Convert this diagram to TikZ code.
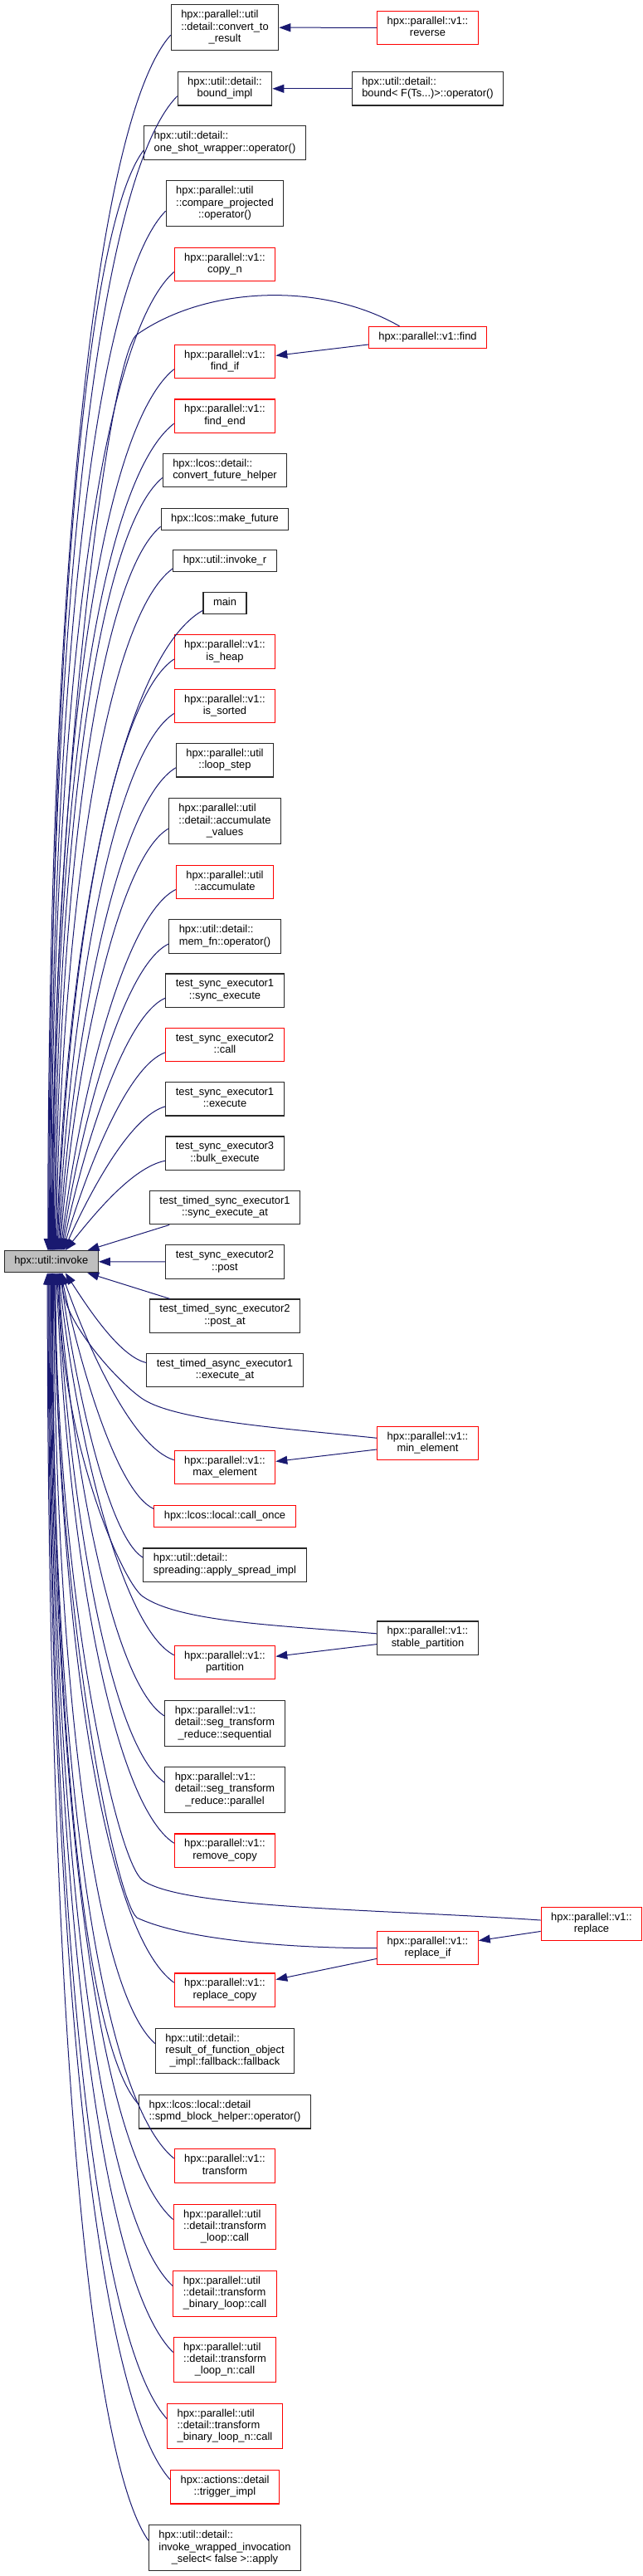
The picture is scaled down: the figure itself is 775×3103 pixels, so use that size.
\documentclass[tikz,border=0pt]{standalone}
\usepackage{fontspec}
\setmainfont{Liberation Sans}
\usetikzlibrary{arrows.meta,calc}
\definecolor{edgeblue}{RGB}{25,25,112}
\definecolor{hotred}{RGB}{255,0,0}
\definecolor{frame}{RGB}{40,40,40}
% label with left-justified lines and a centred last line
\newcommand{\lbl}[2]{\begin{tabular}{@{}l@{}}#1\\\multicolumn{1}{@{}c@{}}{#2}\end{tabular}}
\newcommand{\lblone}[1]{\begin{tabular}{@{}c@{}}#1\end{tabular}}
% caller above / below the invoke node
\newcommand{\callup}[2]{%
  \draw[flow] let \p1=([yshift=-9pt]#1.west), \p2=([xshift=#2pt]inv.north),
    \n1={min(1,abs(\y1-\y2)/1000)} in
    (\p1) .. controls ({\x2+(0.7-0.32*\n1)*(\x1-\x2)},{\y2+0.93*(\y1-\y2)})
      and ({\x2+0.3*(1-\n1)*(\x1-\x2)},{\y2+(0.35+0.2*\n1)*(\y1-\y2)}) .. (\p2);}
\newcommand{\calldown}[2]{%
  \draw[flow] let \p1=([yshift=9pt]#1.west), \p2=([xshift=#2pt]inv.south),
    \n1={min(1,abs(\y1-\y2)/1000)} in
    (\p1) .. controls ({\x2+(0.7-0.32*\n1)*(\x1-\x2)},{\y2+0.93*(\y1-\y2)})
      and ({\x2+0.3*(1-\n1)*(\x1-\x2)},{\y2+(0.35+0.2*\n1)*(\y1-\y2)}) .. (\p2);}
\tikzset{
  >={Triangle[length=14pt,width=10pt]},
  box/.style={draw=#1,fill=white,line width=1.1pt,inner xsep=12pt,inner ysep=5.9pt,
    font=\fontsize{12.9pt}{14.3pt}\selectfont},
  box/.default=frame,
  hot/.style={box=hotred},
  root/.style={box,fill=black!25},
  flow/.style={->,line width=1pt,draw=edgeblue},
}
\begin{document}
\begin{tikzpicture}[x=1pt,y=-1pt]
  \useasboundingbox (0,0) rectangle (775,3103);
  % callers
  \node[box] (conv) at (271,33.2) {\lbl{hpx::parallel::util\\::detail::convert\_to}{\_result}};
  \node[hot] (rev) at (515.5,33.3) {\lbl{hpx::parallel::v1::}{reverse}};
  \node[box] (bimpl) at (271,106.8) {\lbl{hpx::util::detail::}{bound\_impl}};
  \node[box] (bnd) at (515.5,106.8) {\lbl{hpx::util::detail::}{bound< F(Ts...)>::operator()}};
  \node[box] (oneshot) at (271,172) {\lbl{hpx::util::detail::}{one\_shot\_wrapper::operator()}};
  \node[box] (cmpproj) at (271,245.2) {\lbl{hpx::parallel::util\\::compare\_projected}{::operator()}};
  \node[hot] (copyn) at (271,318.5) {\lbl{hpx::parallel::v1::}{copy\_n}};
  \node[hot] (find) at (515.5,406.5) {\lblone{hpx::parallel::v1::find}};
  \node[hot] (findif) at (271,435.7) {\lbl{hpx::parallel::v1::}{find\_if}};
  \node[hot] (findend) at (271,501.2) {\lbl{hpx::parallel::v1::}{find\_end}};
  \node[box] (cfh) at (271,566.5) {\lbl{hpx::lcos::detail::}{convert\_future\_helper}};
  \node[box] (mkfut) at (271,625.3) {\lblone{hpx::lcos::make\_future}};
  \node[box] (invr) at (271,675.8) {\lblone{hpx::util::invoke\_r}};
  \node[box] (main) at (271,726.3) {\lblone{main}};
  \node[hot] (isheap) at (271,785) {\lbl{hpx::parallel::v1::}{is\_heap}};
  \node[hot] (issorted) at (271,850.5) {\lbl{hpx::parallel::v1::}{is\_sorted}};
  \node[box] (loopstep) at (271,915.8) {\lbl{hpx::parallel::util}{::loop\_step}};
  \node[box] (accval) at (271,989.2) {\lbl{hpx::parallel::util\\::detail::accumulate}{\_values}};
  \node[hot] (acc) at (271,1062.5) {\lbl{hpx::parallel::util}{::accumulate}};
  \node[box] (memfn) at (271,1128) {\lbl{hpx::util::detail::}{mem\_fn::operator()}};
  \node[box] (se1sync) at (271,1193.2) {\lbl{test\_sync\_executor1}{::sync\_execute}};
  \node[hot] (se2call) at (271,1258.7) {\lbl{test\_sync\_executor2}{::call}};
  \node[box] (se1exec) at (271,1323.8) {\lbl{test\_sync\_executor1}{::execute}};
  \node[box] (se3bulk) at (271,1389.2) {\lbl{test\_sync\_executor3}{::bulk\_execute}};
  \node[box] (tse1) at (271,1454.7) {\lbl{test\_timed\_sync\_executor1}{::sync\_execute\_at}};
  \node[root] (inv) at (61.75,1519.7) {\lblone{hpx::util::invoke}};
  \node[box] (se2post) at (271,1520) {\lbl{test\_sync\_executor2}{::post}};
  \node[box] (tse2) at (271,1585.2) {\lbl{test\_timed\_sync\_executor2}{::post\_at}};
  \node[box] (tae1) at (271,1650.5) {\lbl{test\_timed\_async\_executor1}{::execute\_at}};
  \node[hot] (minel) at (515.5,1738.7) {\lbl{hpx::parallel::v1::}{min\_element}};
  \node[hot] (maxel) at (271,1767.7) {\lbl{hpx::parallel::v1::}{max\_element}};
  \node[hot] (callonce) at (271,1826.5) {\lblone{hpx::lcos::local::call\_once}};
  \node[box] (spread) at (271,1885.2) {\lbl{hpx::util::detail::}{spreading::apply\_spread\_impl}};
  \node[box] (stpart) at (515.5,1973.2) {\lbl{hpx::parallel::v1::}{stable\_partition}};
  \node[hot] (part) at (271,2002.7) {\lbl{hpx::parallel::v1::}{partition}};
  \node[box] (segseq) at (271,2076) {\lbl{hpx::parallel::v1::\\detail::seg\_transform}{\_reduce::sequential}};
  \node[box] (segpar) at (271,2156) {\lbl{hpx::parallel::v1::\\detail::seg\_transform}{\_reduce::parallel}};
  \node[hot] (rmcopy) at (271,2229.2) {\lbl{hpx::parallel::v1::}{remove\_copy}};
  \node[hot] (repl) at (713,2317.3) {\lbl{hpx::parallel::v1::}{replace}};
  \node[hot] (replif) at (515.5,2346.7) {\lbl{hpx::parallel::v1::}{replace\_if}};
  \node[hot] (replcopy) at (271,2397.2) {\lbl{hpx::parallel::v1::}{replace\_copy}};
  \node[box] (resof) at (271,2470.5) {\lbl{hpx::util::detail::\\result\_of\_function\_object}{\_impl::fallback::fallback}};
  \node[box] (spmd) at (271,2543.8) {\lbl{hpx::lcos::local::detail}{::spmd\_block\_helper::operator()}};
  \node[hot] (transf) at (271,2609) {\lbl{hpx::parallel::v1::}{transform}};
  \node[hot] (tloop) at (271,2682.5) {\lbl{hpx::parallel::util\\::detail::transform}{\_loop::call}};
  \node[hot] (tbin) at (271,2762.7) {\lbl{hpx::parallel::util\\::detail::transform}{\_binary\_loop::call}};
  \node[hot] (tloopn) at (271,2842.5) {\lbl{hpx::parallel::util\\::detail::transform}{\_loop\_n::call}};
  \node[hot] (tbinn) at (271,2922.5) {\lbl{hpx::parallel::util\\::detail::transform}{\_binary\_loop\_n::call}};
  \node[hot] (trig) at (271,2995.8) {\lbl{hpx::actions::detail}{::trigger\_impl}};
  \node[box] (iwi) at (271,3069.2) {\lbl{hpx::util::detail::\\invoke\_wrapped\_invocation}{\_select< false >::apply}};
  % knees of the long edges
  \coordinate (kfind) at (165,403);
  \coordinate (kmin) at (175,1687);
  \coordinate (kstp) at (172,1923);
  \coordinate (krepl) at (172,2265);
  \coordinate (kreplif) at (165,2310);
  % edges into hpx::util::invoke
  \foreach \nm/\sh in {conv/-4,bimpl/-3.05,oneshot/-2.1,cmpproj/-1.15,copyn/-0.2,findif/1.7,
      findend/2.65,cfh/3.6,mkfut/4.55,invr/5.5,main/6.45,isheap/7.4,issorted/8.35,
      loopstep/9.3,accval/10.25,acc/11.2,memfn/12.15,se1sync/13.1,se2call/14.05,
      se1exec/15,se3bulk/17}
    {\callup{\nm}{\sh}}
  \foreach \nm/\sh in {tae1/17,maxel/12.5,callonce/11.6,spread/10.7,part/8.9,segseq/8,
      segpar/7.1,rmcopy/6.2,replcopy/3.5,resof/2.6,spmd/1.7,transf/0.8,tloop/-0.1,
      tbin/-1,tloopn/-1.9,tbinn/-2.8,trig/-3.7,iwi/-4.6}
    {\calldown{\nm}{\sh}}
  \draw[flow] (tse1) -- (inv);
  \draw[flow] (se2post) -- (inv);
  \draw[flow] (tse2) -- (inv);
  \draw[flow] ([xshift=-34pt]find.north) .. controls +(-91,-52.5) and +(86,-60) .. (kfind)
    .. controls +(-32.8,22.9) and +(0,-550) .. ([xshift=0.75pt]inv.north);
  \draw[flow] (minel.174) .. controls +(-110.4,-11.6) and +(43.3,25) .. (kmin)
    .. controls +(-26,-15) and +(0,60) .. ([xshift=13.5pt]inv.south);
  \draw[flow] (stpart.175) .. controls +(-111.6,-9.8) and +(45,31.5) .. (kstp)
    .. controls +(-24.6,-17.2) and +(0,200) .. ([xshift=9.8pt]inv.south);
  \draw[flow] (repl.176) .. controls +(-189.5,-13.3) and +(49.1,34.4) .. (krepl)
    .. controls +(-32.8,-22.9) and +(0,370) .. ([xshift=5.3pt]inv.south);
  \draw[flow] (replif.180) .. controls +(-114,0) and +(54.4,25.4) .. (kreplif)
    .. controls +(-26.8,-22.5) and +(0,390) .. ([xshift=4.4pt]inv.south);
  % between callers
  \draw[flow] (rev) -- (conv);
  \draw[flow] (bnd) -- (bimpl);
  \draw[flow] (find) -- (findif);
  \draw[flow] (minel) -- (maxel);
  \draw[flow] (stpart) -- (part);
  \draw[flow] (repl) -- (replif);
  \draw[flow] (replif) -- (replcopy);
\end{tikzpicture}
\end{document}
